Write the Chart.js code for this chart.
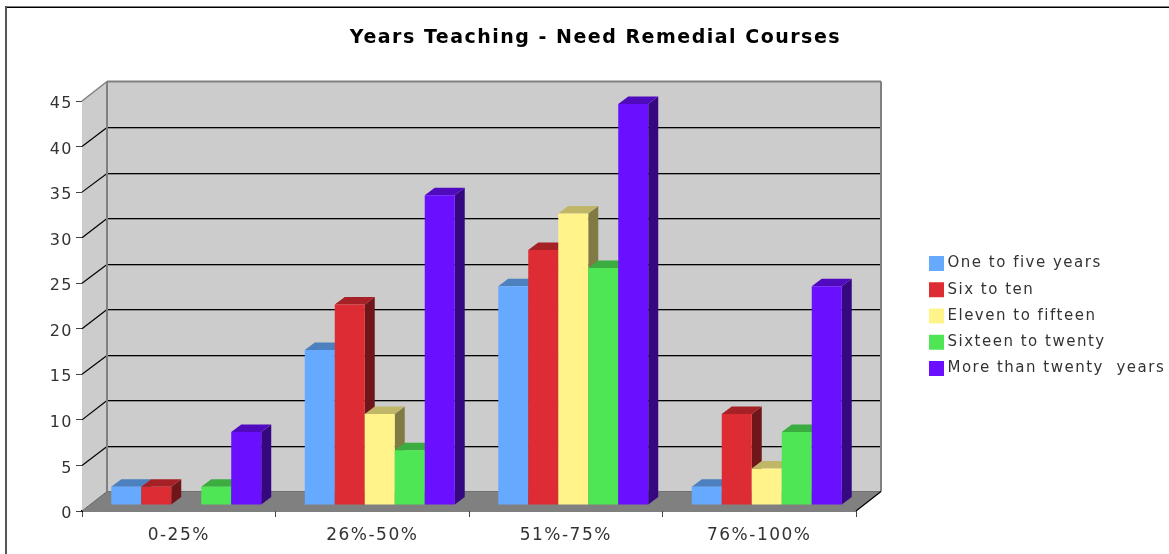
<!DOCTYPE html>
<html>
<head>
<meta charset="utf-8">
<title>Years Teaching - Need Remedial Courses</title>
<script src="https://cdn.jsdelivr.net/npm/chart.js@4/dist/chart.umd.min.js"></script>
<style>
  body { margin: 0; background: #fff; }
  #wrap { position: absolute; left: 0; top: 0; width: 1169px; height: 554px; }
</style>
</head>
<body>
<div id="wrap"><canvas id="yearsChart"></canvas></div>
<script>
const categories = ["0-25%", "26%-50%", "51%-75%", "76%-100%"];
const seriesNames = [
  "One to five years",
  "Six to ten",
  "Eleven to fifteen",
  "Sixteen to twenty",
  "More than twenty  years",
];
const oneToFive = [2, 17, 24, 2];
const sixToTen = [2, 22, 28, 10];
const elevenToFifteen = [0, 10, 32, 4];
const sixteenToTwenty = [2, 6, 26, 8];
const moreThanTwenty = [8, 34, 44, 24];
const seriesValues = [oneToFive, sixToTen, elevenToFifteen, sixteenToTwenty, moreThanTwenty];
const seriesColors = ["#66AAFF", "#DD2C33", "#FFF38A", "#4EE655", "#6A0FFF"];

const WALL_DX = 25;
const WALL_DY = 19.5;
const BAR_DX = 10;
const BAR_DY = 7.5;
const LETTER_SPACING = "1.5px";

function shade(hex, k) {
  const n = parseInt(hex.slice(1), 16);
  const r = Math.round(((n >> 16) & 255) * k);
  const g = Math.round(((n >> 8) & 255) * k);
  const b = Math.round((n & 255) * k);
  return `rgb(${r},${g},${b})`;
}

function poly(ctx, points, color) {
  ctx.fillStyle = color;
  ctx.beginPath();
  points.forEach((p, i) => (i ? ctx.lineTo(p[0], p[1]) : ctx.moveTo(p[0], p[1])));
  ctx.closePath();
  ctx.fill();
}

function line(ctx, x1, y1, x2, y2, color, width) {
  ctx.strokeStyle = color;
  ctx.lineWidth = width;
  ctx.beginPath();
  ctx.moveTo(x1, y1);
  ctx.lineTo(x2, y2);
  ctx.stroke();
}

// Walls, floor and the frame round the picture
function drawBox(chart) {
  const ctx = chart.ctx;
  const { left, right, top, bottom } = chart.chartArea;
  const backL = left + WALL_DX;
  const backR = right + WALL_DX;
  const backT = top - WALL_DY;
  const backB = bottom - WALL_DY;

  ctx.save();
  line(ctx, 5, 6.5, 1169, 6.5, "#808080", 1);
  line(ctx, 5, 7.5, 1169, 7.5, "#000", 1);
  line(ctx, 6, 6, 6, 554, "#555", 2);

  poly(ctx, [[backL, backT], [backR, backT], [backR, backB], [backL, backB]], "#CCCCCC");
  poly(ctx, [[left, top], [backL, backT], [backL, backB], [left, bottom]], "#CCCCCC");
  poly(ctx, [[left, bottom], [backL, backB], [backR, backB], [right, bottom]], "#808080");

  chart.scales.y.ticks.forEach((tick) => {
    if (tick.value === 0 || tick.value === 45) return;
    const y = chart.scales.y.getPixelForValue(tick.value);
    const gy = Math.round(y - WALL_DY) + 0.5;
    line(ctx, backL, gy + 1, backR, gy + 1, "#8c8c8c", 1);
    line(ctx, backL, gy, backR, gy, "#000", 1);
    line(ctx, left, y, backL, gy, "#000", 1.2);
  });

  line(ctx, backL, backT, backR, backT, "#808080", 2);
  line(ctx, backL, backT, backL, backB, "#808080", 2);
  line(ctx, backR, backT, backR, backB, "#808080", 2);
  line(ctx, left, top, backL, backT, "#808080", 1.5);
  line(ctx, left, bottom, backL, backB, "#666", 1);
  line(ctx, backL, backB, backR, backB, "#707070", 1);
  line(ctx, right, bottom, backR, backB, "#000", 1.2);
  ctx.restore();
}

const box3d = {
  id: "box3d",
  beforeLayout(chart) {
    chart.ctx.letterSpacing = LETTER_SPACING;
  },
  afterLayout(chart) {
    // legend and title sit where the original has them
    const legend = chart.legend;
    const pad = legend.options.labels.padding;
    const w = legend.width;
    legend.left = 933 - pad;
    legend.right = legend.left + w;
    legend.top = 256 - pad;
    legend.bottom = legend.top + legend.height;
    chart.titleBlock.left = 22;
    chart.titleBlock.right = 1169;
  },
  beforeDraw(chart) {
    chart.ctx.letterSpacing = LETTER_SPACING;
  },
  beforeDatasetsDraw(chart) {
    const ctx = chart.ctx;
    drawBox(chart);

    // left to right so each bar covers the side of the one before it
    chart.getSortedVisibleDatasetMetas().forEach((meta, d) => {
      ctx.save();
      ctx.translate(7.5, -6);
      meta.data.forEach((bar, i) => {
        if (!seriesValues[d][i]) return;
        const { x, y, base, width } = bar.getProps(["x", "y", "base", "width"], true);
        const l = x - width / 2;
        const r = x + width / 2;
        poly(ctx, [[r, y], [r + BAR_DX, y - BAR_DY], [r + BAR_DX, base - BAR_DY], [r, base]], shade(seriesColors[d], 0.5));
        poly(ctx, [[l, y], [l + BAR_DX, y - BAR_DY], [r + BAR_DX, y - BAR_DY], [r, y]], shade(seriesColors[d], 0.75));
      });
      meta.controller.draw();
      ctx.restore();
    });
    return false;
  },
};

const datasets = seriesNames.map((name, i) => ({
  label: name,
  data: seriesValues[i],
  backgroundColor: seriesColors[i],
  borderWidth: 0,
}));

new Chart(document.getElementById("yearsChart"), {
  type: "bar",
  data: { labels: categories, datasets: datasets },
  plugins: [box3d],
  options: {
    responsive: true,
    maintainAspectRatio: false,
    animation: false,
    layout: { padding: { right: 313 } },
    datasets: { bar: { categoryPercentage: 0.775, barPercentage: 1 } },
    plugins: {
      tooltip: { enabled: false },
      title: {
        display: true,
        text: "Years Teaching - Need Remedial Courses",
        color: "#000",
        font: { family: "DejaVu Sans", size: 19, weight: "bold", lineHeight: 1.2 },
        padding: { top: 26.6, bottom: 51.6 },
      },
      legend: {
        position: "chartArea",
        align: "start",
        labels: {
          color: "#333",
          font: { family: "DejaVu Sans", size: 15 },
          // small box with a thick same-colour stroke: gives a 15px swatch
          // while keeping the text as close to it as in the original
          boxWidth: 7,
          boxHeight: 7,
          padding: 11.25,
          generateLabels() {
            return seriesNames.map((name, i) => ({
              text: name,
              fillStyle: seriesColors[i],
              strokeStyle: seriesColors[i],
              lineWidth: 8,
              fontColor: "#333",
              datasetIndex: i,
            }));
          },
        },
      },
    },
    scales: {
      x: {
        afterFit(scale) {
          scale.height = 43;
        },
        border: { color: "#000", width: 1.5 },
        grid: { drawOnChartArea: false, tickLength: 6, tickColor: "#444" },
        ticks: {
          color: "#333",
          padding: 8,
          maxRotation: 0,
          font: { family: "DejaVu Sans", size: 17 },
        },
      },
      y: {
        min: 0,
        max: 45,
        afterFit(scale) {
          scale.width = 82;
        },
        border: { color: "#000", width: 1 },
        grid: { drawOnChartArea: false, tickLength: 6, tickColor: "#444" },
        ticks: {
          stepSize: 5,
          color: "#333",
          padding: 3,
          labelOffset: 3,
          font: { family: "DejaVu Sans", size: 16 },
        },
      },
    },
  },
});
</script>
</body>
</html>
